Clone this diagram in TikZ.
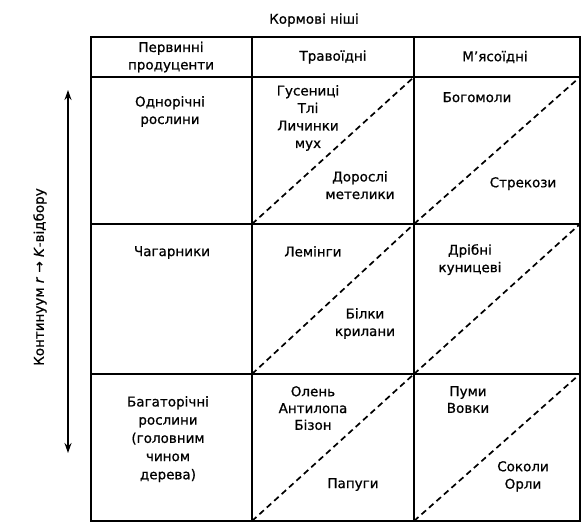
\documentclass[tikz,border=0pt]{standalone}
\usepackage{fontspec}
\setmainfont[FakeBold=0.8]{DejaVu Sans}
\usetikzlibrary{arrows.meta}
\begin{document}
\begin{tikzpicture}[x=1pt,y=-1pt,
  grid/.style={line width=1.9pt},
  diag/.style={line width=1.7pt,dash pattern=on 6pt off 4pt},
  lbl/.style={font=\fontsize{13.5}{17.5}\selectfont,align=center,inner sep=0pt}]
\useasboundingbox (0,0) rectangle (582,523);
% corners
\foreach \c/\x in {0/91,1/252,2/414,3/580}{
  \foreach \r/\y in {0/37,1/77,2/224,3/374,4/521}{
    \coordinate (p\c\r) at (\x,\y);
  }}
% diagonals
\foreach \c/\n in {1/2,2/3}{
  \foreach \r/\s in {1/2,2/3,3/4}{
    \draw[diag] (p\c\s) -- (p\n\r);
  }}
% grid
\draw[grid] (p00) rectangle (p34);
\foreach \r in {1,2,3} \draw[grid] (p0\r) -- (p3\r);
\foreach \c in {1,2} \draw[grid] (p\c0) -- (p\c4);
% title and headers
\node[lbl] (title) at (314,20) {Кормові ніші};
\node[lbl] (h1) at (171,57) {Первинні\\продуценти};
\node[lbl] (h2) at (333,57) {Травоїдні};
\node[lbl] (h3) at (495,57) {М’ясоїдні};
% row 1
\node[lbl,anchor=north] (a1) at (170,96) {Однорічні\\рослини};
\node[lbl,anchor=north] (a2) at (308,85) {Гусениці\\Тлі\\Личинки\\мух};
\node[lbl,anchor=north] (a3) at (360,171) {Дорослі\\метелики};
\node[lbl,anchor=north] (a4) at (477,92) {Богомоли};
\node[lbl,anchor=north] (a5) at (523,177) {Стрекози};
% row 2
\node[lbl,anchor=north] (b1) at (172,246) {Чагарники};
\node[lbl,anchor=north] (b2) at (313,246) {Лемінги};
\node[lbl,anchor=north] (b3) at (470,244) {Дрібні\\куницеві};
\node[lbl,anchor=north] (b4) at (365,308) {Білки\\крилани};
% row 3
\node[lbl,anchor=north,font=\fontsize{13.5}{18.2}\selectfont] (c1) at (168,396) {Багаторічні\\рослини\\(головним\\чином\\дерева)};
\node[lbl,anchor=north,font=\fontsize{13.5}{16.8}\selectfont] (c2) at (313,386) {Олень\\Антилопа\\Бізон};
\node[lbl,anchor=north,font=\fontsize{13.5}{16.8}\selectfont] (c3) at (468,386) {Пуми\\Вовки};
\node[lbl,anchor=north] (c4) at (353,478) {Папуги};
\node[lbl,anchor=north] (c5) at (523,461) {Соколи\\Орли};
% axis
\coordinate (ax1) at (68,90);
\coordinate (ax2) at (68,453);
\draw[line width=1.6pt,{Stealth[length=10pt,width=7pt]}-{Stealth[length=10pt,width=7pt]}] (ax1) -- (ax2);
\node[lbl,rotate=90] (axl) at (40,277) {Континуум \textit{r} → \textit{K}-відбору};
\end{tikzpicture}
\end{document}
